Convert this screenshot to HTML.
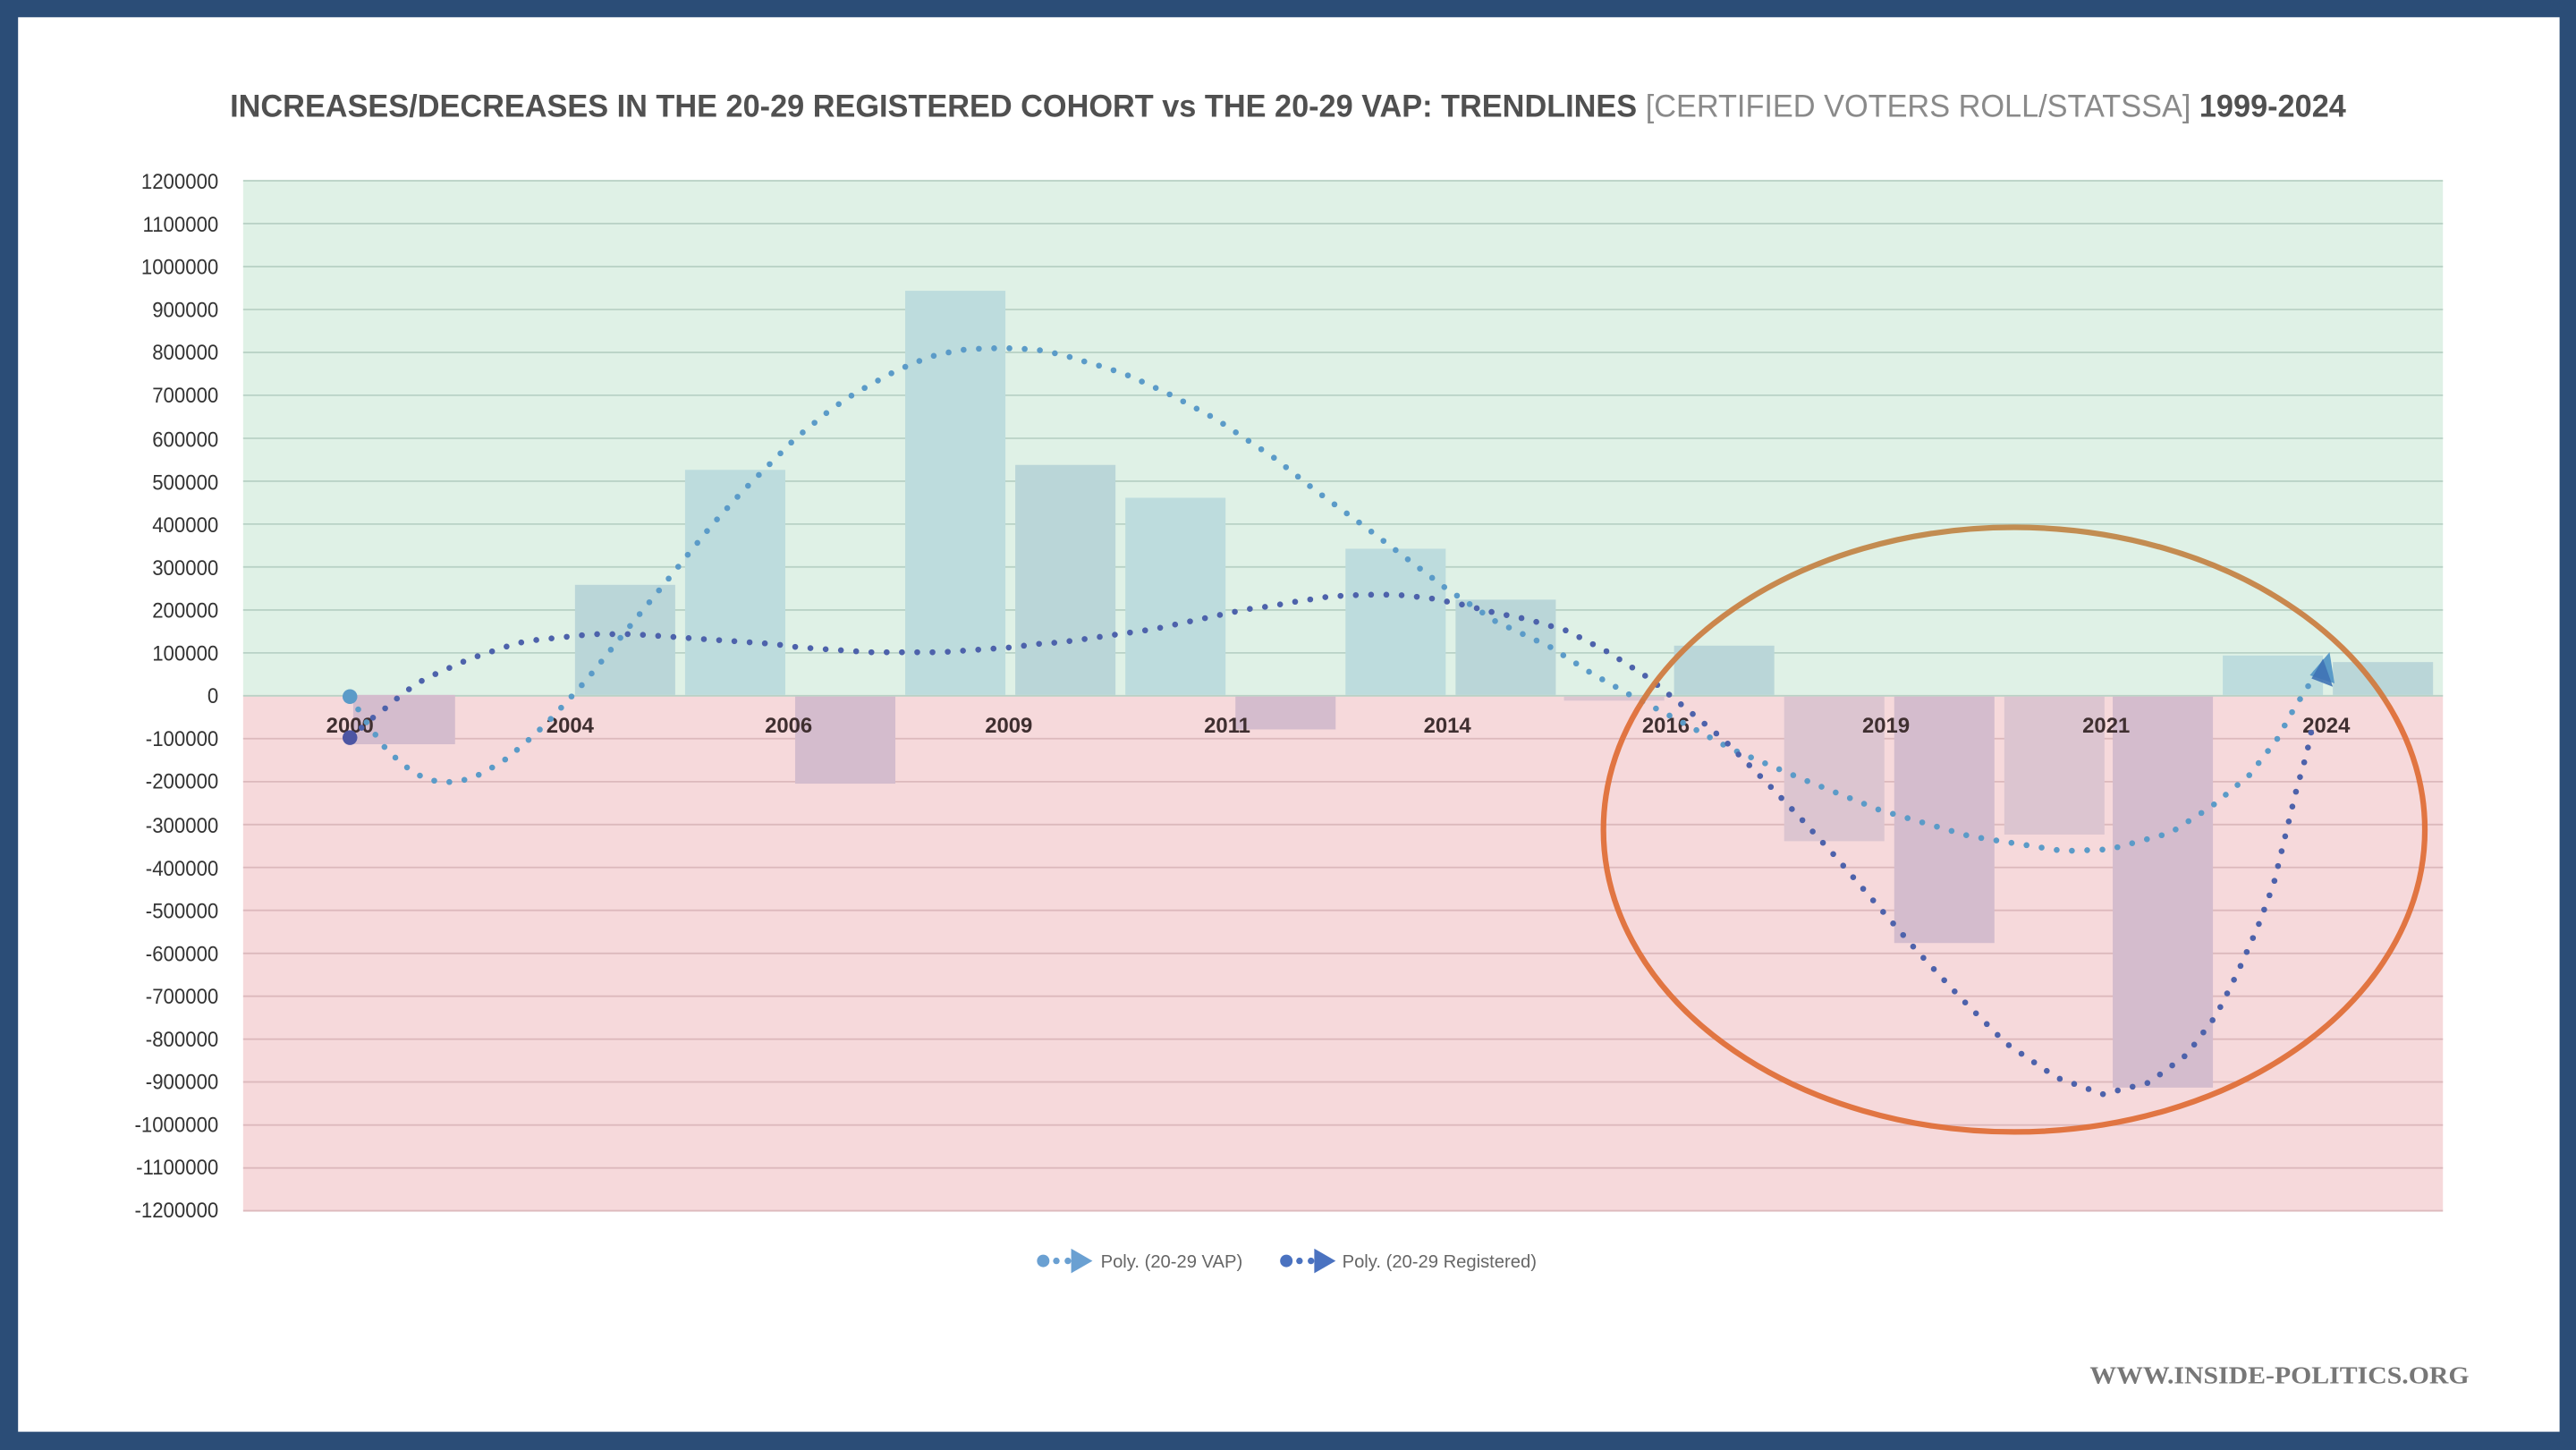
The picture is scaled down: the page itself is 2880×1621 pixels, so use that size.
<!DOCTYPE html>
<html><head><meta charset="utf-8"><style>
html,body{margin:0;padding:0;background:#2b4d77;}
svg{display:block;}
</style></head><body>
<svg width="2880" height="1621" viewBox="0 0 1568 882.6" preserveAspectRatio="none" xmlns="http://www.w3.org/2000/svg" font-family="Liberation Sans, sans-serif">
<defs>
<linearGradient id="eg" x1="0" y1="0" x2="0" y2="1">
<stop offset="0" stop-color="#c0884a"/><stop offset="0.28" stop-color="#d27a40"/><stop offset="0.3" stop-color="#e0703a"/><stop offset="1" stop-color="#e0703a"/>
</linearGradient>
</defs>
<rect x="0" y="0" width="1568" height="883" fill="#2b4d77"/>
<rect x="11" y="10.5" width="1547" height="861" fill="#ffffff"/>
<text x="140" y="71" font-size="19" font-weight="bold" fill="#505050" textLength="1288" lengthAdjust="spacingAndGlyphs">INCREASES/DECREASES IN THE 20-29 REGISTERED COHORT vs THE 20-29 VAP: TRENDLINES <tspan fill="#8a8a8a" font-weight="normal">[CERTIFIED VOTERS ROLL/STATSSA]</tspan> 1999-2024</text>
<rect x="148" y="110" width="1339" height="313" fill="#dff1e6"/>
<rect x="148" y="423" width="1339" height="314" fill="#f6d9db"/>
<g id="grid" stroke-width="1">
<g stroke="#b9d2c6">
<line x1="148" x2="1487" y1="110" y2="110"/><line x1="148" x2="1487" y1="136.1" y2="136.1"/><line x1="148" x2="1487" y1="162.3" y2="162.3"/><line x1="148" x2="1487" y1="188.4" y2="188.4"/><line x1="148" x2="1487" y1="214.5" y2="214.5"/><line x1="148" x2="1487" y1="240.6" y2="240.6"/><line x1="148" x2="1487" y1="266.8" y2="266.8"/><line x1="148" x2="1487" y1="292.9" y2="292.9"/><line x1="148" x2="1487" y1="319" y2="319"/><line x1="148" x2="1487" y1="345.1" y2="345.1"/><line x1="148" x2="1487" y1="371.3" y2="371.3"/><line x1="148" x2="1487" y1="397.4" y2="397.4"/><line x1="148" x2="1487" y1="423.5" y2="423.5"/>
</g>
<g stroke="#dcb9bc">
<line x1="148" x2="1487" y1="449.6" y2="449.6"/><line x1="148" x2="1487" y1="475.8" y2="475.8"/><line x1="148" x2="1487" y1="501.9" y2="501.9"/><line x1="148" x2="1487" y1="528" y2="528"/><line x1="148" x2="1487" y1="554.1" y2="554.1"/><line x1="148" x2="1487" y1="580.3" y2="580.3"/><line x1="148" x2="1487" y1="606.4" y2="606.4"/><line x1="148" x2="1487" y1="632.5" y2="632.5"/><line x1="148" x2="1487" y1="658.6" y2="658.6"/><line x1="148" x2="1487" y1="684.8" y2="684.8"/><line x1="148" x2="1487" y1="710.9" y2="710.9"/><line x1="148" x2="1487" y1="737" y2="737"/>
</g></g>
<g font-size="13" fill="#333" text-anchor="end" transform="translate(133 0) scale(0.93 1) translate(-133 0)">
<text x="133" y="115">1200000</text><text x="133" y="141">1100000</text><text x="133" y="167">1000000</text><text x="133" y="193">900000</text><text x="133" y="219">800000</text><text x="133" y="245">700000</text><text x="133" y="272">600000</text><text x="133" y="298">500000</text><text x="133" y="324">400000</text><text x="133" y="350">300000</text><text x="133" y="376">200000</text><text x="133" y="402">100000</text><text x="133" y="428">0</text><text x="133" y="454">-100000</text><text x="133" y="480">-200000</text><text x="133" y="507">-300000</text><text x="133" y="533">-400000</text><text x="133" y="559">-500000</text><text x="133" y="585">-600000</text><text x="133" y="611">-700000</text><text x="133" y="637">-800000</text><text x="133" y="663">-900000</text><text x="133" y="689">-1000000</text><text x="133" y="715">-1100000</text><text x="133" y="741">-1200000</text>
</g>
<g>
<rect x="215" y="423" width="62" height="30" fill="#d4bccd"/>
<rect x="350" y="356" width="61" height="67" fill="#bad6d8"/>
<rect x="417" y="286" width="61" height="137" fill="#bddcdd"/>
<rect x="484" y="424" width="61" height="53" fill="#d4bccd"/>
<rect x="551" y="177" width="61" height="246" fill="#bddcdd"/>
<rect x="618" y="283" width="61" height="140" fill="#bad6d8"/>
<rect x="685" y="303" width="61" height="120" fill="#bddcdd"/>
<rect x="752" y="424" width="61" height="20" fill="#d4bccd"/>
<rect x="819" y="334" width="61" height="89" fill="#bddcdd"/>
<rect x="886" y="365" width="61" height="58" fill="#bad6d8"/>
<rect x="952" y="424" width="61" height="2.5" fill="#dcc5d0"/>
<rect x="1019" y="393" width="61" height="30" fill="#bad6d8"/>
<rect x="1086" y="424" width="61" height="88" fill="#dcc5d0"/>
<rect x="1153" y="424" width="61" height="150" fill="#d4bccd"/>
<rect x="1220" y="424" width="61" height="84" fill="#dcc5d0"/>
<rect x="1286" y="424" width="61" height="238" fill="#d4bccd"/>
<rect x="1353" y="399" width="61" height="24" fill="#bddcdd"/>
<rect x="1420" y="403" width="61" height="20" fill="#bad6d8"/>
</g>
<g font-size="13" fill="#3f2f30" text-anchor="middle" font-weight="bold">
<text x="213" y="446">2000</text><text x="347" y="446">2004</text><text x="480" y="446">2006</text><text x="614" y="446">2009</text><text x="747" y="446">2011</text><text x="881" y="446">2014</text><text x="1014" y="446">2016</text><text x="1148" y="446">2019</text><text x="1282" y="446">2021</text><text x="1416" y="446">2024</text>
</g>
<polyline fill="none" stroke="#5b9bc8" stroke-width="3.6" stroke-linecap="round" stroke-dasharray="0 9.3" points="213,424 224,441 235,456 246,466 257,473 267,476 276,476 286,474 295,470 308,462 320,452 333,440 346,426 356,415 365,404 377,389 390,373 399,362 408,351 420,336 433,320 442,310 452,299 463,288 474,277 484,267 495,258 506,249 518,241 530,234 543,227 556,221 570,216 585,213 600,212 618,212 632,213 647,216 660,220 674,224 688,229 701,235 714,241 727,248 740,255 752,263 764,271 776,279 800,298 830,320 855,339 880,358 910,378 944,394 969,410 994,424 1019,437 1054,456 1099,475 1144,493 1199,509 1256,518 1284,517 1321,507 1346,491 1369,472 1386,450 1396,432 1406,416 1412,405"/>
<polyline fill="none" stroke="#4d62ab" stroke-width="3.6" stroke-linecap="round" stroke-dasharray="0 9.3" points="213,449 220,443 228,436 236,430 243,424 251,418 259,413 268,409 277,405 286,401 295,398 304,395 313,392 322,390 332,389 341,388 351,387 360,386 370,386 385,386 400,387 414,388 428,389 443,390 457,391 471,392 486,394 500,395 515,396 529,397 544,397 558,397 573,397 587,396 602,395 616,394 631,392 645,391 660,389 674,387 688,385 702,383 716,380 730,377 744,374 758,371 773,369 790,366 810,363 830,362 850,362 870,364 890,368 910,373 930,377 954,384 979,397 1004,413 1026,431 1049,450 1076,477 1096,498 1116,520 1141,549 1167,579 1194,608 1221,635 1252,656 1280,666 1308,659 1331,642 1349,618 1362,592 1374,565 1384,538 1391,509 1398,480 1404,459 1408,440"/>
<circle cx="213" cy="424" r="4.5" fill="#5b9bc8"/>
<circle cx="213" cy="449" r="4.5" fill="#4d56a3"/>
<polygon points="1418,397 1421,416 1406,411" fill="#5b9bc8"/>
<polygon points="1414,401 1420,418 1407,413" fill="#3f73b5" opacity="0.9"/>
<ellipse cx="1226" cy="505" rx="250" ry="184" fill="none" stroke="url(#eg)" stroke-width="3.4" opacity="0.95"/>
<g font-size="11" fill="#666">
<circle cx="635" cy="767.5" r="3.8" fill="#6aa0d2"/><circle cx="643" cy="767.5" r="2" fill="#6aa0d2"/><circle cx="650" cy="767.5" r="2" fill="#6aa0d2"/><polygon points="652,760 665,767.5 652,775" fill="#6aa0d2"/>
<text x="670" y="771.5">Poly. (20-29 VAP)</text>
<circle cx="783" cy="767.5" r="3.8" fill="#4a72c0"/><circle cx="791" cy="767.5" r="2" fill="#4a72c0"/><circle cx="798" cy="767.5" r="2" fill="#4a72c0"/><polygon points="800,760 813,767.5 800,775" fill="#4a72c0"/>
<text x="817" y="771.5">Poly. (20-29 Registered)</text>
</g>
<text x="1503" y="842" font-family="Liberation Serif, serif" font-size="15" font-weight="bold" fill="#777" text-anchor="end" textLength="231" lengthAdjust="spacingAndGlyphs">WWW.INSIDE-POLITICS.ORG</text>
</svg>
</body></html>
